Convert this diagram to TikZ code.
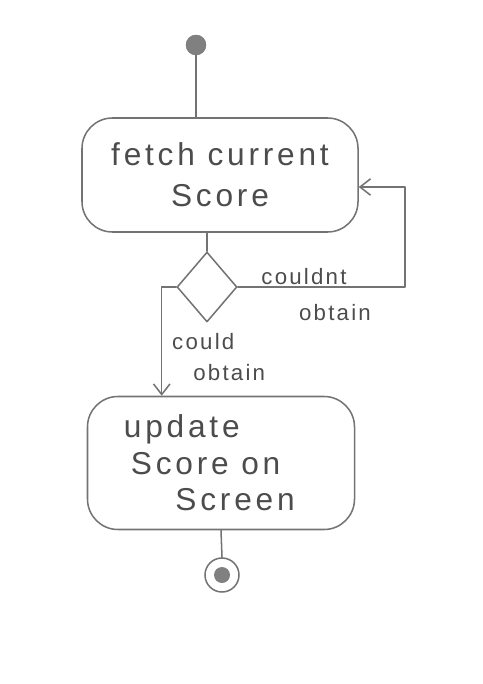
\documentclass[tikz,border=0pt]{standalone}
\usepackage{fontspec}
\setmainfont{Liberation Sans}
\usetikzlibrary{arrows.meta,shapes.geometric,calc}

\tikzset{
  pencil/.style={draw=black!55, line width=1.3pt, line cap=round, line join=round},
  flowarrow/.style={pencil, -{Straight Barb[length=9pt,width=14pt]}},
  actbox/.style={pencil, rounded corners=26pt, text=black!70, inner sep=0pt,
    font=\fontsize{27}{31}\selectfont\addfontfeature{LetterSpace=12}},
  guard/.style={text=black!70, inner sep=0pt,
    font=\fontsize{19}{20}\selectfont\addfontfeature{LetterSpace=10}},
}

\begin{document}
\begin{tikzpicture}[x=0.03cm,y=-0.03cm]
  \useasboundingbox (0,0) rectangle (482,684);
  % states
  \node[circle, fill=black!50, draw=black!55, minimum size=0.6cm, inner sep=0pt] (start) at (196,45) {};
  \node[actbox, align=center, minimum width=8.28cm, minimum height=3.42cm] (fetch) at (220,175) {fetch current\\[4pt]Score};
  \node[pencil, diamond, minimum width=1.8cm, minimum height=2.1cm, inner sep=0pt] (dec) at (207,287) {};
  \node[actbox, align=left, minimum width=8.01cm, minimum height=3.99cm] (update) at (221,463)
    {update\\\hspace*{6pt}Score on\\\hspace*{44pt}Screen\hspace*{20pt}};
  \node[pencil, circle, minimum size=1.02cm, inner sep=0pt] (finish) at (222,575) {};
  \node[circle, fill=black!50, minimum size=0.48cm, inner sep=0pt] (finishdot) at (finish) {};
  \coordinate (loop) at (405,292);
  % flow
  \draw[pencil] (start) -- (start |- fetch.north);
  \draw[pencil] (dec.north |- fetch.south) -- (dec.north);
  \draw[flowarrow] (dec.east) -- (dec.east -| loop) |- ($(fetch.east)+(0,12)$);
  \draw[flowarrow] (dec.west) -| ($(update.north west)+(75,0)$);
  \draw[pencil] (update.south) -- (finish.north);
  % guards
  \node[guard] (nogo) at (304,277) {couldnt};
  \node[guard] (nogo2) at (335,313) {obtain};
  \node[guard, anchor=west, align=left] (go) at (172,357) {could\\[6pt]\hspace*{18pt}obtain};
\end{tikzpicture}
\end{document}
